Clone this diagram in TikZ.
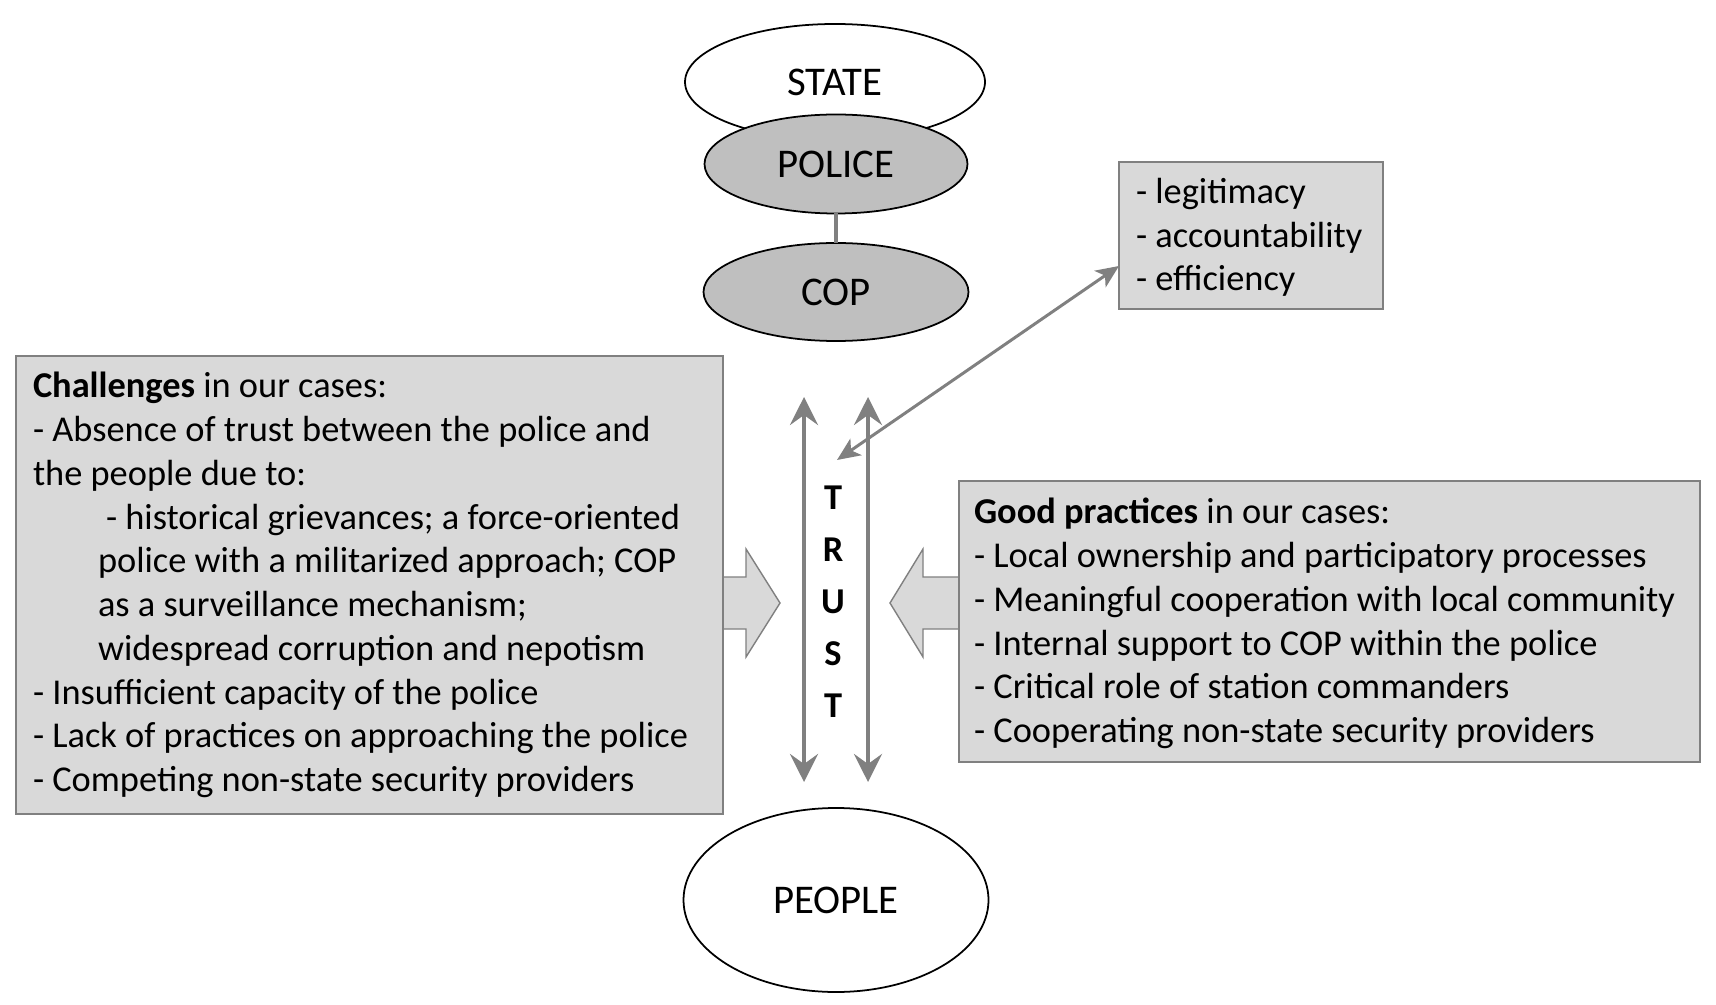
\documentclass[tikz,border=0pt]{standalone}
\usepackage{fontspec}
\setmainfont{Carlito}
\usetikzlibrary{shapes.geometric, arrows.meta, positioning, calc}

\begin{document}
\begin{tikzpicture}[x=0.2mm, y=-0.2mm, every node/.style={outer sep=0pt, font=\fontsize{20.7pt}{24.9pt}\selectfont}]
\tikzstyle{oval}=[draw, ellipse, line width=1pt, inner sep=0pt, fill=white, font=\fontsize{23.2pt}{28pt}\selectfont]
\tikzstyle{darkoval}=[oval, fill=gray!50]
\tikzstyle{greybox}=[draw=gray, line width=1.4pt, fill=gray!30, anchor=north west]
\tikzstyle{boxtext}=[anchor=west, align=left, inner sep=0pt]
\tikzstyle{blockarrow}=[draw=gray, line width=0.8pt, fill=gray!30, line join=miter]
\tikzstyle{trustline}=[draw=gray, line width=2.3pt, {Stealth[length=5.6mm, width=5.6mm, inset=2mm]}-{Stealth[length=5.6mm, width=5.6mm, inset=2mm]}]
\tikzstyle{valueline}=[draw=gray, line width=1.7pt, {Stealth[length=4.6mm, width=4mm, inset=1.2mm]}-{Stealth[length=4.6mm, width=4mm, inset=1.2mm]}]

\useasboundingbox (0,0) rectangle (1716,1005);

\node (state) [oval, minimum width=60mm, minimum height=23.2mm] at (835,82) {STATE};
\node (police) [darkoval, minimum width=52.6mm, minimum height=19.8mm] at (836,164) {POLICE};
\node (cop) [darkoval, minimum width=53mm, minimum height=19.6mm] at (836,292) {COP};
\draw [gray, line width=2.2pt] (police) -- (cop);

\node (people) [oval, minimum width=61mm, minimum height=36.8mm] at (836,900) {PEOPLE};

\draw [blockarrow] (723,577) -- (746,577) -- (746,549) -- (780,603) -- (746,657) -- (746,629) -- (723,629) -- cycle;
\draw [blockarrow] (959,577) -- (923,577) -- (923,549) -- (890,603) -- (923,657) -- (923,629) -- (959,629) -- cycle;

\node (challenges) [greybox, minimum width=141.4mm, minimum height=91.6mm] at (16,356) {};
\node (challengestext) [boxtext, right=3.4mm of challenges.west] {\textbf{Challenges} in our cases:\\
- Absence of trust between the police and\\
the people due to:\\
\hspace*{14.6mm}- historical grievances; a force-oriented\\
\hspace*{13mm}police with a militarized approach; COP\\
\hspace*{13mm}as a surveillance mechanism;\\
\hspace*{13mm}widespread corruption and nepotism\\
- Insufficient capacity of the police\\
- Lack of practices on approaching the police\\
- Competing non-state security providers};

\node (practices) [greybox, minimum width=148.2mm, minimum height=56.2mm] at (959,481) {};
\node (practicestext) [boxtext, right=3mm of practices.west, yshift=-0.4mm] {\textbf{Good practices} in our cases:\\
- Local ownership and participatory processes\\
- Meaningful cooperation with local community\\
- Internal support to COP within the police\\
- Critical role of station commanders\\
- Cooperating non-state security providers};

\node (values) [greybox, minimum width=52.8mm, minimum height=29.4mm] at (1119,162) {};
\node (valuestext) [boxtext, right=3.4mm of values.west, yshift=-0.4mm] {- legitimacy\\
- accountability\\
- efficiency};

\foreach \ch [count=\i from 0] in {T,R,U,S,T}
  \node (trust\i) [font=\fontsize{20.7pt}{24.9pt}\selectfont\bfseries] at (833,498+52*\i) {\ch};

\coordinate (lefttop) at (804,397);
\coordinate (leftbot) at (804,782);
\coordinate (righttop) at (868,397);
\coordinate (rightbot) at (868,782);
\coordinate (trusttip) at (837,460);

\draw [trustline] (lefttop) -- (leftbot);
\draw [trustline] (righttop) -- (rightbot);
\draw [valueline] (values.193) -- (trusttip);
\end{tikzpicture}
\end{document}
